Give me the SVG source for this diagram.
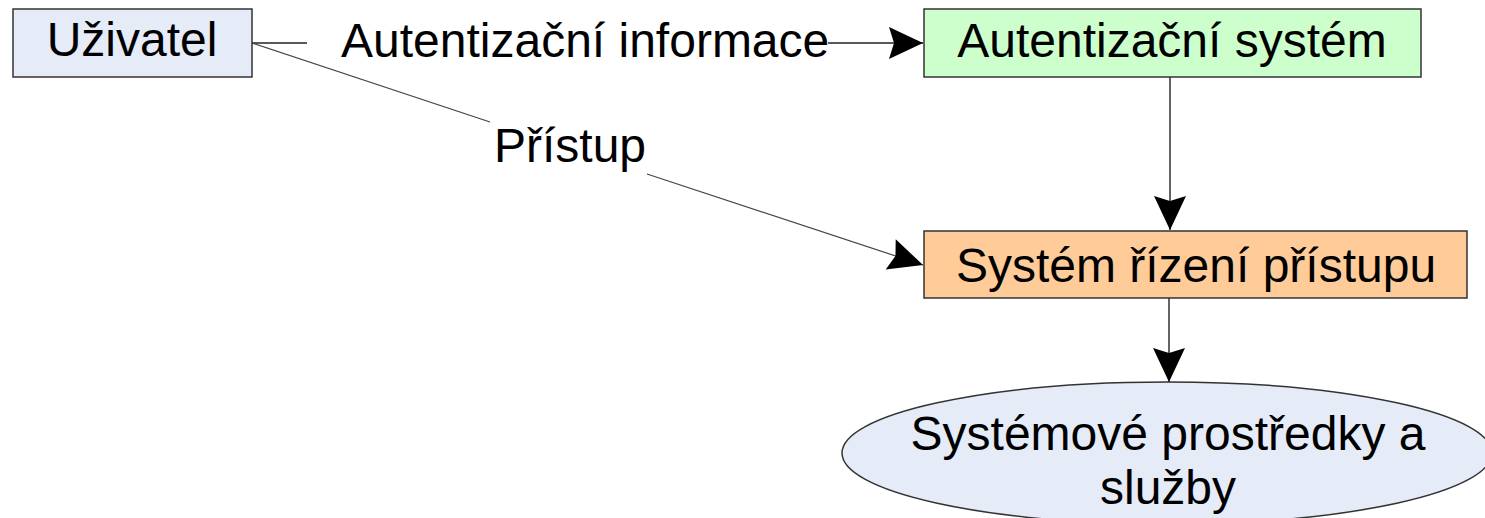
<svg xmlns="http://www.w3.org/2000/svg" width="1485" height="518" viewBox="0 0 1485 518">
  <style>
    .box { stroke: #333; stroke-width: 1.5; }
    .lbl { font-family: "Liberation Sans", Arial, sans-serif; font-size: 48px; fill: #000; }
    .mid { text-anchor: middle; }
    .edge { fill: none; stroke: #222; stroke-width: 1.4; }
    .slant { stroke: #444; stroke-width: 1.2; }
  </style>
  <defs>
    <marker id="arrow" markerUnits="userSpaceOnUse" markerWidth="36" markerHeight="36" viewBox="-35 -18 36 36" refX="0" refY="0" orient="auto">
      <path d="M0,0 L-34,-16 L-29,0 L-34,16 Z" fill="#000"/>
    </marker>
  </defs>

  <!-- connectors -->
  <g id="connectors">
    <!-- user -> authentication system (label interrupts the line) -->
    <line class="edge" x1="252" y1="43" x2="307" y2="43"/>
    <line class="edge" x1="828" y1="43" x2="923" y2="43" marker-end="url(#arrow)"/>
    <text class="lbl" x="341" y="57">Autentizační informace</text>

    <!-- user -> access control system -->
    <line class="edge slant" x1="252" y1="43" x2="490" y2="122"/>
    <line class="edge slant" x1="647" y1="174" x2="923" y2="265" marker-end="url(#arrow)"/>
    <text class="lbl mid" x="570" y="162">Přístup</text>

    <!-- authentication system -> access control system -->
    <line class="edge" x1="1170" y1="77" x2="1170" y2="230" marker-end="url(#arrow)"/>

    <!-- access control system -> resources -->
    <line class="edge" x1="1169" y1="298" x2="1169" y2="382" marker-end="url(#arrow)"/>
  </g>

  <!-- nodes -->
  <g id="uzivatel">
    <rect class="box" x="13" y="9" width="239" height="68" fill="#e5ebf7"/>
    <text class="lbl mid" x="132" y="56">Uživatel</text>
  </g>

  <g id="autentizacni-system">
    <rect class="box" x="924" y="9" width="497" height="68" fill="#ccffcc"/>
    <text class="lbl mid" x="1172" y="57">Autentizační systém</text>
  </g>

  <g id="system-rizeni-pristupu">
    <rect class="box" x="924" y="231" width="543" height="67" fill="#ffcc99"/>
    <text class="lbl mid" x="1196" y="282">Systém řízení přístupu</text>
  </g>

  <g id="systemove-prostredky">
    <ellipse class="box" cx="1167" cy="453" rx="325" ry="71" fill="#e5ebf7"/>
    <text class="lbl mid" x="1168" y="450">Systémové prostředky a</text>
    <text class="lbl mid" x="1168" y="504">služby</text>
  </g>
</svg>
